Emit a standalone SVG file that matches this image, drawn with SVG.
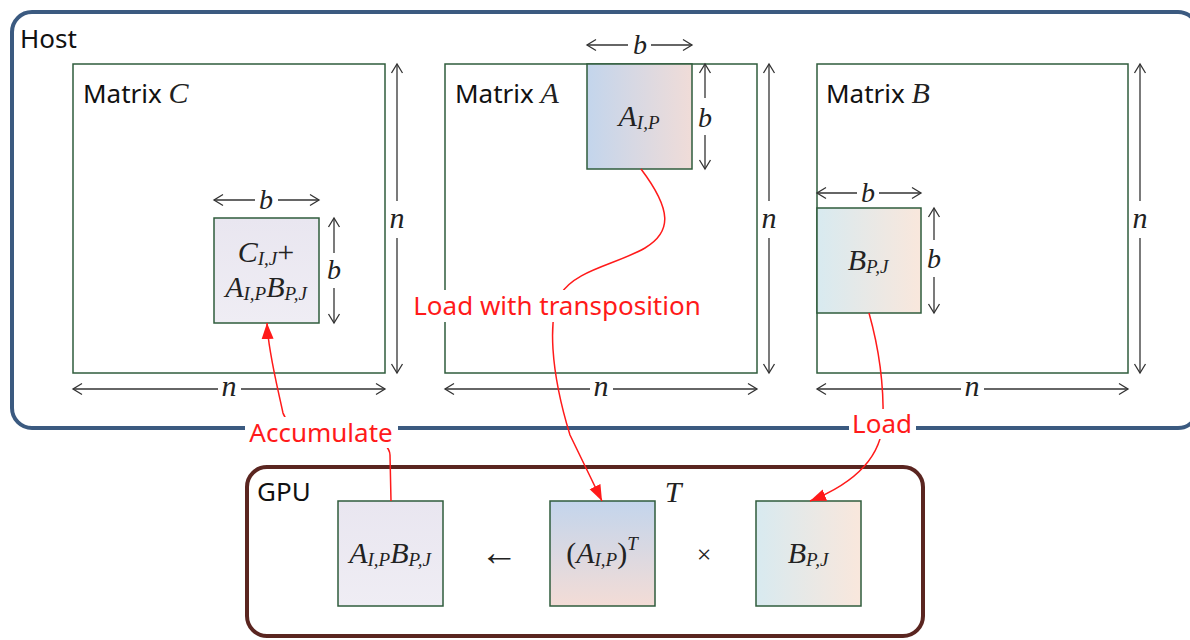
<svg xmlns="http://www.w3.org/2000/svg" width="1190" height="640" viewBox="0 0 1190 640">
<defs>
<style>
.lbl{font-family:"Noto Sans","Liberation Sans",sans-serif;font-size:26px;fill:#111}
.red{font-family:"Noto Sans","Liberation Sans",sans-serif;font-size:26px;fill:#ff1a1a}
.m{font-family:"Liberation Serif","Times New Roman",serif;font-style:italic;font-size:30px;fill:#222}
.mb{font-family:"Liberation Serif","Times New Roman",serif;font-style:italic;font-size:28px;fill:#222}
.mn{font-family:"Liberation Serif","Times New Roman",serif;font-style:italic;font-size:30px;fill:#222}
.sub{font-size:19px}
.up{font-family:"Liberation Serif",serif;fill:#222;font-style:normal}
.mat{fill:#fff;stroke:#2f5c3c;stroke-width:1.5}
.blk{stroke:#2f5c3c;stroke-width:1.5}
.dim{stroke:#333;stroke-width:1.3;fill:none;marker-end:url(#oa)}
.conn{stroke:#ff1a1a;stroke-width:1.5;fill:none}
</style>
<marker id="oa" viewBox="-10 -7 12 14" markerWidth="12" markerHeight="14" refX="0" refY="0" orient="auto" markerUnits="userSpaceOnUse">
<path d="M-9,-5.5 L0,0 L-9,5.5" fill="none" stroke="#333" stroke-width="1.3"/>
</marker>
<marker id="ra" viewBox="-16 -7 17 14" markerWidth="17" markerHeight="14" refX="0" refY="0" orient="auto" markerUnits="userSpaceOnUse">
<path d="M-16,-6 L0,0 L-16,6 Z" fill="#ff1a1a"/>
</marker>
<linearGradient id="gA" x1="0" y1="0" x2="1" y2="0"><stop offset="0" stop-color="#c3d5ec"/><stop offset="1" stop-color="#f0dcd8"/></linearGradient>
<linearGradient id="gAv" x1="0" y1="0" x2="0" y2="1"><stop offset="0" stop-color="#c3d5ec"/><stop offset="1" stop-color="#f3dcd6"/></linearGradient>
<linearGradient id="gB" x1="0" y1="0" x2="1" y2="0"><stop offset="0" stop-color="#d8eaf0"/><stop offset="1" stop-color="#f9e7dc"/></linearGradient>
<linearGradient id="gC" x1="0" y1="0" x2="0" y2="1"><stop offset="0" stop-color="#e9e6f0"/><stop offset="1" stop-color="#efedf4"/></linearGradient>
</defs>
<rect width="1190" height="640" fill="#fff"/>

<g id="host">
<rect x="12" y="12" width="1186" height="416" rx="20" fill="none" stroke="#3b5a80" stroke-width="4"/>
<text class="lbl" x="20" y="48">Host</text>
</g>

<g id="matrixC">
<rect class="mat" x="73" y="64" width="312" height="309"/>
<text class="lbl" x="83" y="103">Matrix <tspan class="m" font-size="28">C</tspan></text>
</g>
<g id="matrixA">
<rect class="mat" x="445" y="64" width="312" height="309"/>
<text class="lbl" x="455" y="103">Matrix <tspan class="m" font-size="28">A</tspan></text>
</g>
<g id="matrixB">
<rect class="mat" x="817" y="64" width="311" height="309"/>
<text class="lbl" x="826" y="103">Matrix <tspan class="m" font-size="28">B</tspan></text>
</g>

<g id="blockC">
<rect class="blk" x="214" y="218" width="105" height="105" fill="url(#gC)"/>
<text class="m" x="266" y="262" text-anchor="middle">C<tspan class="sub" dy="3">I,J</tspan><tspan class="up" dy="-3">+</tspan></text>
<text class="m" x="266" y="297" text-anchor="middle">A<tspan class="sub" dy="3">I,P</tspan><tspan dy="-3">B</tspan><tspan class="sub" dy="3">P,J</tspan></text>
</g>
<g id="blockA">
<rect class="blk" x="587" y="64" width="105" height="105" fill="url(#gA)"/>
<text class="m" x="639" y="126" text-anchor="middle">A<tspan class="sub" dy="3">I,P</tspan></text>
</g>
<g id="blockB">
<rect class="blk" x="817" y="208" width="104" height="105" fill="url(#gB)"/>
<text class="m" x="868" y="270" text-anchor="middle">B<tspan class="sub" dy="3">P,J</tspan></text>
</g>

<g id="dimensions">
<line class="dim" x1="255" y1="200" x2="214" y2="200"/>
<line class="dim" x1="278" y1="200" x2="319" y2="200"/>
<text class="mb" x="266" y="209" text-anchor="middle">b</text>
<line class="dim" x1="334" y1="253" x2="334" y2="218"/>
<line class="dim" x1="334" y1="288" x2="334" y2="323"/>
<text class="mb" x="334" y="279" text-anchor="middle">b</text>

<line class="dim" x1="628" y1="45" x2="587" y2="45"/>
<line class="dim" x1="651" y1="45" x2="692" y2="45"/>
<text class="mb" x="640" y="54" text-anchor="middle">b</text>
<line class="dim" x1="705" y1="98" x2="705" y2="64"/>
<line class="dim" x1="705" y1="135" x2="705" y2="169"/>
<text class="mb" x="705" y="127" text-anchor="middle">b</text>

<line class="dim" x1="857" y1="193" x2="817" y2="193"/>
<line class="dim" x1="879" y1="193" x2="921" y2="193"/>
<text class="mb" x="868" y="202" text-anchor="middle">b</text>
<line class="dim" x1="934" y1="240" x2="934" y2="208"/>
<line class="dim" x1="934" y1="277" x2="934" y2="313"/>
<text class="mb" x="934" y="268" text-anchor="middle">b</text>

<line class="dim" x1="397" y1="201" x2="397" y2="64"/>
<line class="dim" x1="397" y1="238" x2="397" y2="373"/>
<text class="mn" x="397" y="228" text-anchor="middle">n</text>
<line class="dim" x1="769" y1="201" x2="769" y2="64"/>
<line class="dim" x1="769" y1="238" x2="769" y2="373"/>
<text class="mn" x="769" y="228" text-anchor="middle">n</text>
<line class="dim" x1="1140" y1="201" x2="1140" y2="64"/>
<line class="dim" x1="1140" y1="238" x2="1140" y2="373"/>
<text class="mn" x="1140" y="228" text-anchor="middle">n</text>

<line class="dim" x1="218" y1="389" x2="73" y2="389"/>
<line class="dim" x1="241" y1="389" x2="385" y2="389"/>
<text class="mn" x="229" y="396" text-anchor="middle">n</text>
<line class="dim" x1="590" y1="389" x2="445" y2="389"/>
<line class="dim" x1="613" y1="389" x2="757" y2="389"/>
<text class="mn" x="601" y="396" text-anchor="middle">n</text>
<line class="dim" x1="961" y1="389" x2="817" y2="389"/>
<line class="dim" x1="984" y1="389" x2="1128" y2="389"/>
<text class="mn" x="972" y="396" text-anchor="middle">n</text>
</g>

<g id="gpu">
<rect x="247" y="467" width="676" height="169" rx="20" fill="none" stroke="#5a2520" stroke-width="4"/>
<text class="lbl" x="257" y="501">GPU</text>
</g>
<g id="gpuAB">
<rect class="blk" x="338" y="501" width="105" height="105" fill="url(#gC)"/>
<text class="m" x="390" y="563" text-anchor="middle">A<tspan class="sub" dy="3">I,P</tspan><tspan dy="-3">B</tspan><tspan class="sub" dy="3">P,J</tspan></text>
</g>
<g id="gpuAT">
<rect class="blk" x="550" y="501" width="105" height="105" fill="url(#gAv)"/>
<text class="m" x="602" y="563" text-anchor="middle"><tspan class="up">(</tspan>A<tspan class="sub" dy="3">I,P</tspan><tspan class="up" dy="-3">)</tspan><tspan class="sub" font-size="17" dy="-13">T</tspan></text>
</g>
<g id="gpuB">
<rect class="blk" x="756" y="501" width="105" height="105" fill="url(#gB)"/>
<text class="m" x="808" y="563" text-anchor="middle">B<tspan class="sub" dy="3">P,J</tspan></text>
</g>
<g id="operators">
<text class="up" x="499" y="565" text-anchor="middle" font-size="38">←</text>
<text class="up" x="704" y="563" text-anchor="middle" font-size="26" fill="#444">×</text>
<text class="m" x="673" y="502" text-anchor="middle" font-size="30">T</text>
</g>

<g id="connectors">
<path class="conn" d="M641,169 C672,210 672,232 645,248 C615,265 575,270 560,295 C548,318 550,370 570,435 L602,501" marker-end="url(#ra)"/>
<path class="conn" d="M391,501 L390,455 C389,425 290,440 283,413 C277,385 268,350 267,323" marker-end="url(#ra)"/>
<path class="conn" d="M869,313 C878,345 884,380 883,420 C882,460 850,485 810,501" marker-end="url(#ra)"/>
</g>

<g id="labels">
<rect x="406" y="290" width="303" height="32" fill="#fff"/>
<text class="red" x="557" y="315" text-anchor="middle">Load with transposition</text>
<rect x="245" y="417" width="153" height="31" fill="#fff"/>
<text class="red" x="321" y="442" text-anchor="middle">Accumulate</text>
<rect x="849" y="409" width="67" height="30" fill="#fff"/>
<text class="red" x="882" y="433" text-anchor="middle">Load</text>
</g>
</svg>
